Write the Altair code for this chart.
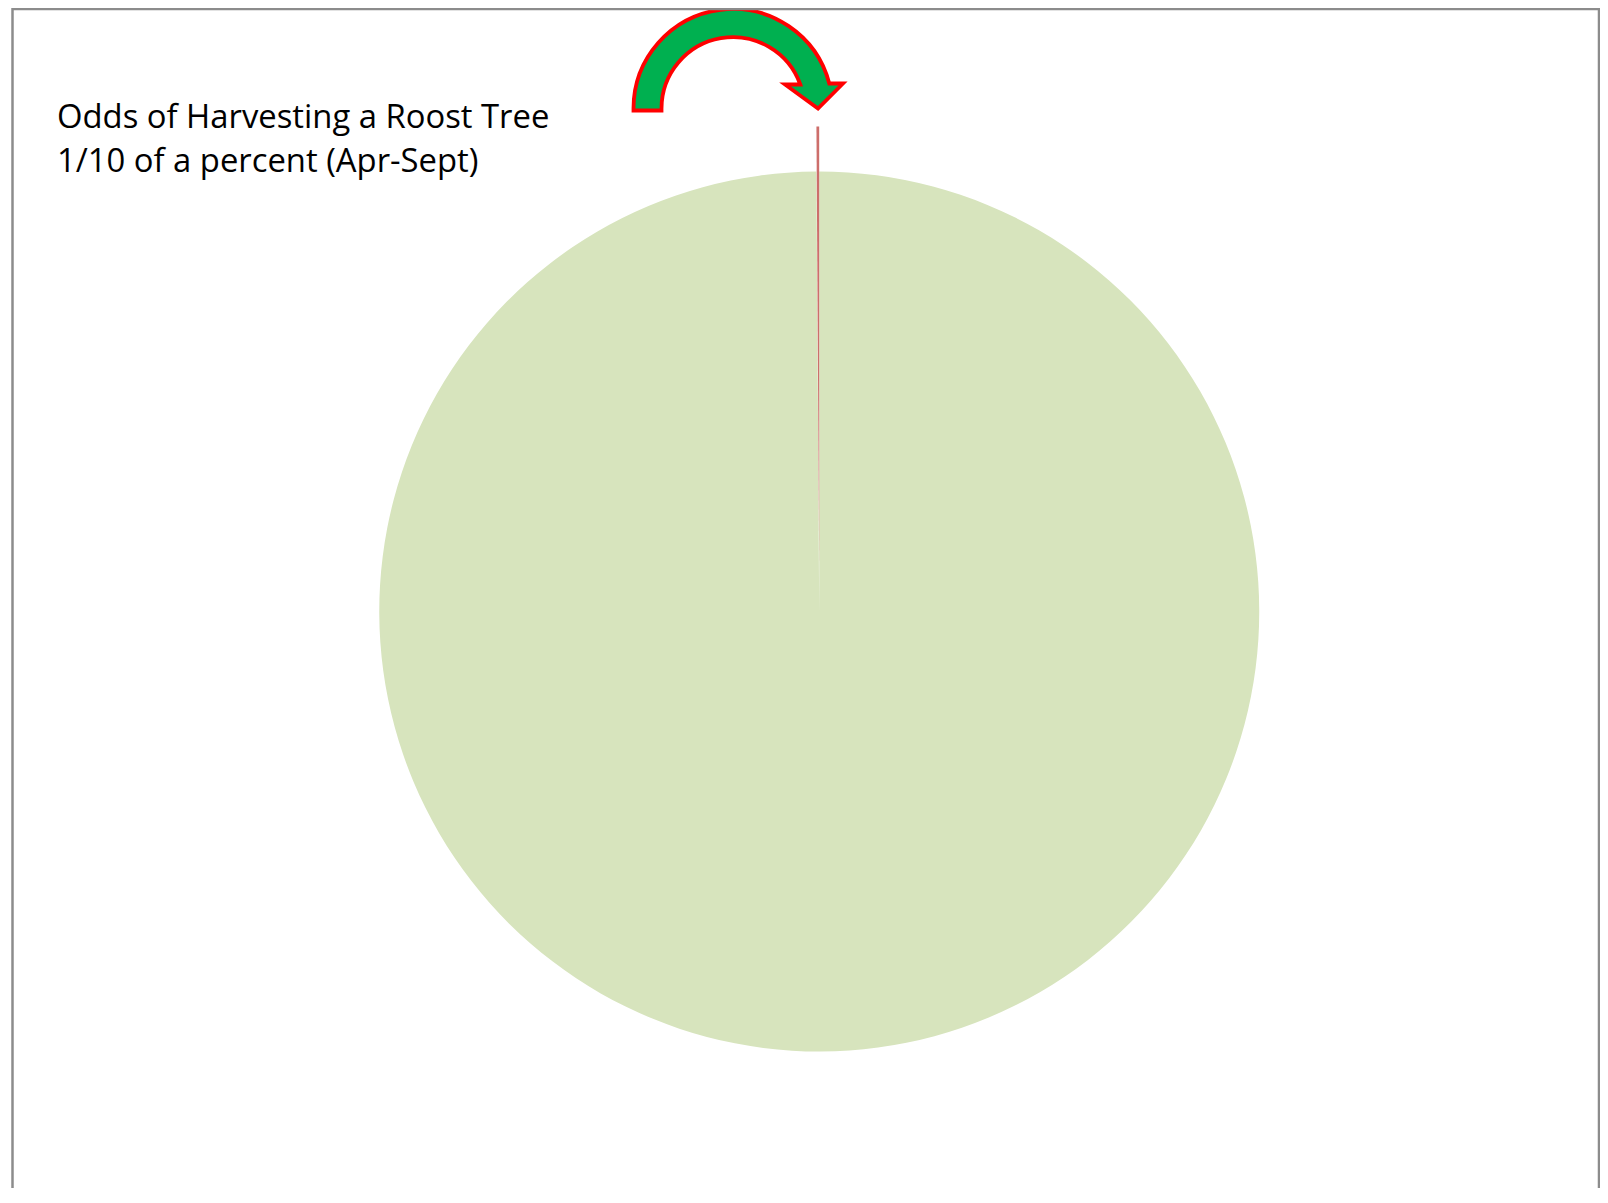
import altair as alt
import pandas as pd

# ---- data ----
categories = ["Not a roost tree", "Roost tree harvested"]
shares = [99.9, 0.1]
slice_colors = ["#D7E4BD", "#CD6E6B"]
title_lines = ["Odds of Harvesting a Roost Tree", "1/10 of a percent (Apr-Sept)"]

pie_df = pd.DataFrame({"category": categories, "share": shares, "k": [0, 1]})
one = pd.DataFrame({"a": [0]})

# ---- layout (svg pixels) ----
W, H = 1592, 1180
CX, CY, R = 811.2, 603.5, 440
EXPLODE = 45

color = alt.Color("category:N", scale=alt.Scale(domain=categories, range=slice_colors), legend=None)
theta = alt.Theta("share:Q", stack=True)
order = alt.Order("k:Q")

pie_main = alt.Chart(pie_df).mark_arc(radius=R).encode(
    theta=theta, color=color, order=order,
    x=alt.value(CX), y=alt.value(CY),
    opacity=alt.condition(alt.datum.k == 0, alt.value(1), alt.value(0)),
)
pie_exploded = alt.Chart(pie_df).mark_arc(radius=R).encode(
    theta=theta, color=color, order=order,
    x=alt.value(CX), y=alt.value(CY - EXPLODE),
    opacity=alt.condition(alt.datum.k == 1, alt.value(1), alt.value(0)),
)

# curved arrow drawn as one custom symbol path (size=4 -> 1 unit = 1 px)
arrow_path = (
    "M -71.5 2 L -99.5 2 L -99.5 0 "
    "A 99.5 99.5 0 0 1 96.3 -25 "
    "L 110 -25 L 85 0 L 52 -24 L 67.3 -24 "
    "A 71.5 71.5 0 0 0 -71.5 0 Z"
)
arrow = alt.Chart(one).mark_point(
    shape=arrow_path, size=4, filled=True, fill="#00B050", stroke="#FF0000",
    strokeWidth=3.8, strokeJoin="miter", opacity=1,
).encode(x=alt.value(725), y=alt.value(100.5))

title = alt.Chart(one).mark_text(
    text=title_lines, align="left", baseline="alphabetic", font="Open Sans",
    fontSize=32.8, lineHeight=44.6, color="#000000",
).encode(x=alt.value(49), y=alt.value(119.7))

border_v = alt.Chart(pd.DataFrame({"bx": [4.5, 1591]})).mark_rule(
    color="#8C8C8C", strokeWidth=2.5
).encode(x=alt.X("bx:Q", scale=None), y=alt.value(0), y2=alt.value(H))
border_h = alt.Chart(one).mark_rule(color="#8C8C8C", strokeWidth=2.5).encode(
    x=alt.value(4.5), x2=alt.value(1591), y=alt.value(1)
)

chart = (
    alt.layer(pie_main, pie_exploded, arrow, title, border_v, border_h)
    .properties(width=W, height=H, padding=0, autosize=alt.AutoSizeParams(type="none"),
                background="#FFFFFF")
    .configure_view(stroke=None)
)

chart.save("out.html", embed_options={"renderer": "svg", "actions": False})
